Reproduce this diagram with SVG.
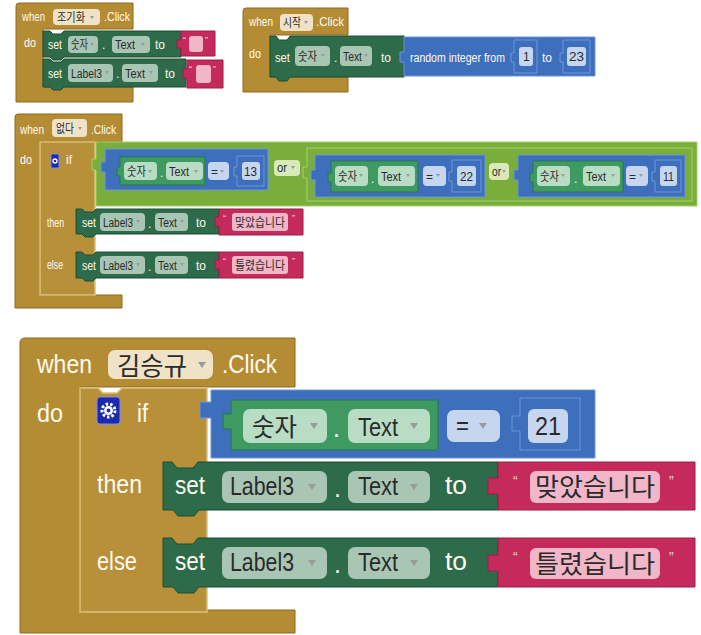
<svg xmlns="http://www.w3.org/2000/svg" width="701" height="635" viewBox="0 0 701 635">
<style>
text{font-family:"Liberation Sans","Noto Sans CJK KR",sans-serif}
.w{fill:#fffaf0}
.k{fill:#2a2a2a}
.q{fill:#f7d3df}
.s{font-size:12px}
.b{font-size:25px}
.gold{fill:#b48c34;stroke:#8e6b22;stroke-width:1}
.goldi{fill:#b8903a;stroke:#dcc07c;stroke-width:1.5}
.set{fill:#2e6b4a;stroke:#1e4f33;stroke-width:1}
.str{fill:#c42a5c;stroke:#9a1e46;stroke-width:1}
.math{fill:#3d6fbd;stroke:#6f97d8;stroke-width:1}
.get{fill:#3f9a62;stroke:#2a774a;stroke-width:1}
.logic{fill:#79ae3d;stroke:#a4d26a;stroke-width:1}
.pg{fill:#efe2c6}
.ps{fill:#a9c6b4}
.pt{fill:#f2b6c9}
.pm{fill:#c7d6ef}
.pe{fill:#b9dcc5}
.pl{fill:#d8eab9}
.ar{fill:#9a9a9a}
.gear{fill:#1b28b0;stroke:#7f8fe0;stroke-width:1}
.cog{fill:none;stroke:#ffffff}
</style>

<g id="connectors"></g>

<!-- Block 1: when 조기화.Click -->
<g id="block-jogiwha">
  <path class="gold" d="M19,3 H133 V29 H43 V87 H133 V102 H16 V6 Q16,3 19,3 Z"/>
  <text class="w s" x="22" y="21" textLength="23" lengthAdjust="spacingAndGlyphs">when</text>
  <rect class="pg" x="53" y="9" width="47" height="16" rx="4"/>
  <text class="k s" x="57" y="22" textLength="28" lengthAdjust="spacingAndGlyphs">조기화</text>
  <polygon class="ar" points="90,16 94,16 92,19"/>
  <text class="w s" x="104" y="21" textLength="26" lengthAdjust="spacingAndGlyphs">.Click</text>
  <text class="w s" x="24" y="47" textLength="12" lengthAdjust="spacingAndGlyphs">do</text>

  <path class="set" d="M43,31 H50 l3,3 h8 l3,-3 H181 V57 H64 l-3,3 h-8 l-3,-3 H43 Z"/>
  <text class="w s" x="48" y="49" textLength="14" lengthAdjust="spacingAndGlyphs">set</text>
  <rect class="ps" x="68" y="36" width="30" height="17" rx="4"/>
  <text class="k s" x="71" y="49" textLength="17" lengthAdjust="spacingAndGlyphs">숫자</text>
  <polygon class="ar" points="90,43 94,43 92,46"/>
  <text class="w s" x="102" y="49">.</text>
  <rect class="ps" x="112" y="36" width="38" height="17" rx="4"/>
  <text class="k s" x="115" y="49" textLength="20" lengthAdjust="spacingAndGlyphs">Text</text>
  <polygon class="ar" points="141,43 145,43 143,46"/>
  <text class="w s" x="155" y="49" textLength="10" lengthAdjust="spacingAndGlyphs">to</text>
  <path class="str" d="M181,31 H215 V56 H181 V48 h-4 v-8 h4 Z"/>
  <text class="q" x="183" y="43" font-size="9">“</text>
  <rect class="pt" x="189" y="36" width="14" height="16" rx="3"/>
  <text class="q" x="205" y="43" font-size="9">”</text>

  <path class="set" d="M43,59 H50 l3,3 h8 l3,-3 H186 V87 H64 l-3,3 h-8 l-3,-3 H43 Z"/>
  <text class="w s" x="48" y="78" textLength="14" lengthAdjust="spacingAndGlyphs">set</text>
  <rect class="ps" x="68" y="64" width="45" height="18" rx="4"/>
  <text class="k s" x="71" y="78" textLength="31" lengthAdjust="spacingAndGlyphs">Label3</text>
  <polygon class="ar" points="105,71 109,71 107,74"/>
  <text class="w s" x="116" y="78">.</text>
  <rect class="ps" x="122" y="64" width="36" height="18" rx="4"/>
  <text class="k s" x="125" y="78" textLength="20" lengthAdjust="spacingAndGlyphs">Text</text>
  <polygon class="ar" points="149,71 153,71 151,74"/>
  <text class="w s" x="165" y="78" textLength="10" lengthAdjust="spacingAndGlyphs">to</text>
  <path class="str" d="M187,60 H223 V88 H187 V78 h-4 v-9 h4 Z"/>
  <text class="q" x="189" y="72" font-size="9">“</text>
  <rect class="pt" x="196" y="65" width="15" height="18" rx="3"/>
  <text class="q" x="213" y="72" font-size="9">”</text>
</g>

<!-- Block 2: when 시작.Click -->
<g id="block-sijak">
  <path class="gold" d="M246,8 H348 V35 H270 V77 H348 V92 H243 V11 Q243,8 246,8 Z"/>
  <text class="w s" x="249" y="26" textLength="24" lengthAdjust="spacingAndGlyphs">when</text>
  <rect class="pg" x="280" y="14" width="33" height="17" rx="4"/>
  <text class="k s" x="283" y="27" textLength="18" lengthAdjust="spacingAndGlyphs">시작</text>
  <polygon class="ar" points="304,21 308,21 306,24"/>
  <text class="w s" x="316" y="26" textLength="28" lengthAdjust="spacingAndGlyphs">.Click</text>
  <text class="w s" x="249" y="58" textLength="12" lengthAdjust="spacingAndGlyphs">do</text>

  <path class="set" d="M270,36 H276 l3,4 h8 l3,-4 H404 V77 H290 l-3,4 h-8 l-3,-4 H270 Z"/>
  <text class="w s" x="275" y="62" textLength="15" lengthAdjust="spacingAndGlyphs">set</text>
  <rect class="ps" x="295" y="46" width="35" height="20" rx="4"/>
  <text class="k s" x="298" y="61" textLength="19" lengthAdjust="spacingAndGlyphs">숫자</text>
  <polygon class="ar" points="321,54 325,54 323,57"/>
  <text class="w s" x="334" y="62">.</text>
  <rect class="ps" x="340" y="46" width="32" height="20" rx="4"/>
  <text class="k s" x="343" y="61" textLength="19" lengthAdjust="spacingAndGlyphs">Text</text>
  <polygon class="ar" points="364,54 368,54 366,57"/>
  <text class="w s" x="381" y="62" textLength="10" lengthAdjust="spacingAndGlyphs">to</text>

  <path class="math" d="M404,37 H595 V76 H404 V62 h-4 v-10 h4 Z"/>
  <text class="w s" x="410" y="62" textLength="95" lengthAdjust="spacingAndGlyphs">random integer from</text>
  <path class="math" d="M514,40 H537 V73 H514 V62 h-3 v-9 h3 Z"/>
  <rect class="pm" x="519" y="47" width="14" height="19" rx="3"/>
  <text class="k s" x="523" y="61">1</text>
  <text class="w s" x="542" y="62" textLength="10" lengthAdjust="spacingAndGlyphs">to</text>
  <path class="math" d="M563,40 H590 V73 H563 V62 h-3 v-9 h3 Z"/>
  <rect class="pm" x="567" y="47" width="19" height="19" rx="3"/>
  <text class="k s" x="569" y="61" textLength="15" lengthAdjust="spacingAndGlyphs">23</text>
</g>

<!-- Block 3: when 없다.Click -->
<g id="block-eopda">
  <path class="gold" d="M18,114 H122 V142 H40 V295 H122 V308 H15 V117 Q15,114 18,114 Z"/>
  <text class="w s" x="20" y="134" textLength="24" lengthAdjust="spacingAndGlyphs">when</text>
  <rect class="pg" x="52" y="119" width="35" height="18" rx="4"/>
  <text class="k s" x="56" y="133" textLength="18" lengthAdjust="spacingAndGlyphs">없다</text>
  <polygon class="ar" points="78,127 82,127 80,130"/>
  <text class="w s" x="91" y="134" textLength="25" lengthAdjust="spacingAndGlyphs">.Click</text>
  <text class="w s" x="20" y="164" textLength="12" lengthAdjust="spacingAndGlyphs">do</text>

  <path class="goldi" d="M40,142 H95 V295 H40 Z"/>
  <rect class="gear" x="51" y="154" width="8" height="14" rx="1.5"/>
  <circle class="cog" cx="55" cy="161" r="2" stroke-width="1.3"/>
  <text class="w s" x="66" y="164" textLength="6" lengthAdjust="spacingAndGlyphs">if</text>

  <path class="logic" d="M96,142 H697 V206 H96 V170 h-4 v-11 h4 Z"/>
  <path class="math" d="M105,149 H268 V190 H105 V172 h-4 v-10 h4 Z"/>
  <path class="get" d="M120,157 H205 V185 H120 V176 h-3 v-9 h3 Z"/>
  <rect class="pe" x="124" y="162" width="33" height="18" rx="4"/>
  <text class="k s" x="127" y="176" textLength="19" lengthAdjust="spacingAndGlyphs">숫자</text>
  <polygon class="ar" points="148,170 152,170 150,173"/>
  <text class="w s" x="160" y="177">.</text>
  <rect class="pe" x="166" y="162" width="37" height="18" rx="4"/>
  <text class="k s" x="169" y="176" textLength="20" lengthAdjust="spacingAndGlyphs">Text</text>
  <polygon class="ar" points="194,170 198,170 196,173"/>
  <rect class="pm" x="208" y="162" width="21" height="18" rx="4"/>
  <text class="k s" x="211" y="176">=</text>
  <polygon class="ar" points="220,170 224,170 222,173"/>
  <path class="math" d="M237,156 H264 V186 H237 V176 h-3 v-9 h3 Z"/>
  <rect class="pm" x="242" y="162" width="18" height="18" rx="3"/>
  <text class="k s" x="244" y="176" textLength="13" lengthAdjust="spacingAndGlyphs">13</text>

  <rect class="pl" x="274" y="160" width="26" height="16" rx="4"/>
  <text class="k s" x="277" y="172" textLength="10" lengthAdjust="spacingAndGlyphs">or</text>
  <polygon class="ar" points="291,166 295,166 293,169"/>

  <path class="logic" d="M307,148 H692 V201 H307 V178 h-4 v-11 h4 Z"/>
  <path class="math" d="M315,155 H485 V197 H315 V180 h-4 v-10 h4 Z"/>
  <path class="get" d="M331,161 H418 V192 H331 V182 h-3 v-9 h3 Z"/>
  <rect class="pe" x="335" y="166" width="33" height="20" rx="4"/>
  <text class="k s" x="338" y="181" textLength="19" lengthAdjust="spacingAndGlyphs">숫자</text>
  <polygon class="ar" points="359,174 363,174 361,177"/>
  <text class="w s" x="371" y="183">.</text>
  <rect class="pe" x="378" y="166" width="37" height="20" rx="4"/>
  <text class="k s" x="381" y="181" textLength="20" lengthAdjust="spacingAndGlyphs">Text</text>
  <polygon class="ar" points="406,174 410,174 408,177"/>
  <rect class="pm" x="423" y="166" width="23" height="20" rx="4"/>
  <text class="k s" x="426" y="181">=</text>
  <polygon class="ar" points="436,174 440,174 438,177"/>
  <path class="math" d="M452,160 H481 V192 H452 V181 h-3 v-9 h3 Z"/>
  <rect class="pm" x="457" y="166" width="19" height="20" rx="3"/>
  <text class="k s" x="460" y="181" textLength="13" lengthAdjust="spacingAndGlyphs">22</text>

  <rect class="pl" x="489" y="163" width="20" height="17" rx="4"/>
  <text class="k s" x="492" y="176" textLength="9" lengthAdjust="spacingAndGlyphs">or</text>
  <polygon class="ar" points="502,170 506,170 504,173"/>

  <path class="math" d="M518,155 H685 V197 H518 V180 h-4 v-10 h4 Z"/>
  <path class="get" d="M533,161 H623 V192 H533 V182 h-3 v-9 h3 Z"/>
  <rect class="pe" x="537" y="166" width="33" height="20" rx="4"/>
  <text class="k s" x="540" y="181" textLength="19" lengthAdjust="spacingAndGlyphs">숫자</text>
  <polygon class="ar" points="561,174 565,174 563,177"/>
  <text class="w s" x="574" y="183">.</text>
  <rect class="pe" x="583" y="166" width="37" height="20" rx="4"/>
  <text class="k s" x="586" y="181" textLength="20" lengthAdjust="spacingAndGlyphs">Text</text>
  <polygon class="ar" points="611,174 615,174 613,177"/>
  <rect class="pm" x="626" y="166" width="22" height="20" rx="4"/>
  <text class="k s" x="629" y="181">=</text>
  <polygon class="ar" points="639,174 643,174 641,177"/>
  <path class="math" d="M655,160 H681 V192 H655 V181 h-3 v-9 h3 Z"/>
  <rect class="pm" x="660" y="166" width="17" height="20" rx="3"/>
  <text class="k s" x="663" y="181" textLength="11" lengthAdjust="spacingAndGlyphs">11</text>

  <text class="w s" x="47" y="227" textLength="17" lengthAdjust="spacingAndGlyphs">then</text>
  <path class="set" d="M76,209 H82 l3,3 h8 l3,-3 H219 V234 H96 l-3,3 h-8 l-3,-3 H76 Z"/>
  <text class="w s" x="82" y="227" textLength="14" lengthAdjust="spacingAndGlyphs">set</text>
  <rect class="ps" x="100" y="213" width="45" height="18" rx="4"/>
  <text class="k s" x="103" y="227" textLength="30" lengthAdjust="spacingAndGlyphs">Label3</text>
  <polygon class="ar" points="136,220 140,220 138,223"/>
  <text class="w s" x="148" y="228">.</text>
  <rect class="ps" x="155" y="213" width="33" height="18" rx="4"/>
  <text class="k s" x="158" y="227" textLength="19" lengthAdjust="spacingAndGlyphs">Text</text>
  <polygon class="ar" points="180,220 184,220 182,223"/>
  <text class="w s" x="196" y="227" textLength="10" lengthAdjust="spacingAndGlyphs">to</text>
  <path class="str" d="M219,209 H303 V235 H219 V226 h-4 v-9 h4 Z"/>
  <text class="q" x="223" y="221" font-size="9">“</text>
  <rect class="pt" x="232" y="213" width="56" height="18" rx="3"/>
  <text class="k s" x="235" y="227" textLength="50" lengthAdjust="spacingAndGlyphs">맞았습니다</text>
  <text class="q" x="292" y="221" font-size="9">”</text>

  <text class="w s" x="47" y="269" textLength="16" lengthAdjust="spacingAndGlyphs">else</text>
  <path class="set" d="M76,252 H82 l3,3 h8 l3,-3 H219 V278 H96 l-3,3 h-8 l-3,-3 H76 Z"/>
  <text class="w s" x="82" y="270" textLength="14" lengthAdjust="spacingAndGlyphs">set</text>
  <rect class="ps" x="100" y="256" width="45" height="18" rx="4"/>
  <text class="k s" x="103" y="270" textLength="30" lengthAdjust="spacingAndGlyphs">Label3</text>
  <polygon class="ar" points="136,263 140,263 138,266"/>
  <text class="w s" x="148" y="271">.</text>
  <rect class="ps" x="155" y="256" width="33" height="18" rx="4"/>
  <text class="k s" x="158" y="270" textLength="19" lengthAdjust="spacingAndGlyphs">Text</text>
  <polygon class="ar" points="180,263 184,263 182,266"/>
  <text class="w s" x="196" y="270" textLength="10" lengthAdjust="spacingAndGlyphs">to</text>
  <path class="str" d="M219,252 H303 V278 H219 V269 h-4 v-9 h4 Z"/>
  <text class="q" x="223" y="264" font-size="9">“</text>
  <rect class="pt" x="232" y="256" width="56" height="18" rx="3"/>
  <text class="k s" x="235" y="270" textLength="50" lengthAdjust="spacingAndGlyphs">틀렸습니다</text>
  <text class="q" x="292" y="264" font-size="9">”</text>
</g>

<!-- Block 4: when 김승규.Click -->
<g id="block-kimseunggyu">
  <path class="gold" d="M25,338 H295 V387 H80 V610 H295 V633 H20 V343 Q20,338 25,338 Z"/>
  <text class="w b" x="37" y="373" textLength="55" lengthAdjust="spacingAndGlyphs">when</text>
  <rect class="pg" x="108" y="350" width="105" height="29" rx="7"/>
  <text class="k b" x="117" y="375" textLength="70" lengthAdjust="spacingAndGlyphs">김승규</text>
  <polygon class="ar" points="198,362 206,362 202,368"/>
  <text class="w b" x="222" y="373" textLength="55" lengthAdjust="spacingAndGlyphs">.Click</text>
  <text class="w b" x="37" y="422" textLength="26" lengthAdjust="spacingAndGlyphs">do</text>

  <path class="goldi" d="M80,388 H98 l5,5 h14 l5,-5 H207 V612 H80 Z"/>
  <rect class="gear" x="97" y="397" width="23" height="27" rx="3"/>
  <circle class="cog" cx="108.5" cy="410.5" r="6.5" stroke-width="3" stroke-dasharray="2.5 2"/>
  <circle class="cog" cx="108.5" cy="410.5" r="3.2" stroke-width="2.5"/>
  <text class="w b" x="137" y="422" textLength="11" lengthAdjust="spacingAndGlyphs">if</text>

  <path class="math" d="M211,390 H595 V458 H211 V418 h-11 v-16 h11 Z"/>
  <path class="get" d="M231,400 H438 V450 H231 V429 h-8 v-15 h8 Z"/>
  <rect class="pe" x="243" y="409" width="84" height="34" rx="7"/>
  <text class="k b" x="252" y="436" textLength="45" lengthAdjust="spacingAndGlyphs">숫자</text>
  <polygon class="ar" points="310,423 318,423 314,429"/>
  <text class="w b" x="333" y="437">.</text>
  <rect class="pe" x="348" y="409" width="82" height="34" rx="7"/>
  <text class="k b" x="358" y="436" textLength="40" lengthAdjust="spacingAndGlyphs">Text</text>
  <polygon class="ar" points="410,423 418,423 414,429"/>
  <rect class="pm" x="447" y="410" width="53" height="32" rx="7"/>
  <text class="k b" x="456" y="434" textLength="13" lengthAdjust="spacingAndGlyphs">=</text>
  <polygon class="ar" points="479,423 487,423 483,429"/>
  <path class="math" d="M520,398 H580 V450 H520 V431 h-8 v-15 h8 Z"/>
  <rect class="pm" x="528" y="409" width="40" height="34" rx="6"/>
  <text class="k b" x="535" y="435" textLength="26" lengthAdjust="spacingAndGlyphs">21</text>

  <text class="w b" x="97" y="493" textLength="45" lengthAdjust="spacingAndGlyphs">then</text>
  <path class="set" d="M163,462 H172 l5,6 h16 l5,-6 H498 V510 H199 l-5,6 h-16 l-5,-6 H163 Z"/>
  <text class="w b" x="175" y="494" textLength="30" lengthAdjust="spacingAndGlyphs">set</text>
  <rect class="ps" x="222" y="471" width="105" height="32" rx="7"/>
  <text class="k b" x="230" y="495" textLength="64" lengthAdjust="spacingAndGlyphs">Label3</text>
  <polygon class="ar" points="308,484 316,484 312,490"/>
  <text class="w b" x="334" y="497">.</text>
  <rect class="ps" x="348" y="471" width="82" height="32" rx="7"/>
  <text class="k b" x="358" y="495" textLength="40" lengthAdjust="spacingAndGlyphs">Text</text>
  <polygon class="ar" points="410,484 418,484 414,490"/>
  <text class="w b" x="445" y="494" textLength="22" lengthAdjust="spacingAndGlyphs">to</text>
  <path class="str" d="M498,462 H695 V510 H498 V494 h-10 v-16 h10 Z"/>
  <text class="q" x="513" y="486" font-size="14">“</text>
  <rect class="pt" x="530" y="471" width="130" height="32" rx="6"/>
  <text class="k b" x="535" y="496" textLength="120" lengthAdjust="spacingAndGlyphs">맞았습니다</text>
  <text class="q" x="669" y="486" font-size="14">”</text>

  <text class="w b" x="97" y="570" textLength="40" lengthAdjust="spacingAndGlyphs">else</text>
  <path class="set" d="M163,538 H172 l5,6 h16 l5,-6 H498 V587 H199 l-5,6 h-16 l-5,-6 H163 Z"/>
  <text class="w b" x="175" y="570" textLength="30" lengthAdjust="spacingAndGlyphs">set</text>
  <rect class="ps" x="222" y="547" width="105" height="32" rx="7"/>
  <text class="k b" x="230" y="571" textLength="64" lengthAdjust="spacingAndGlyphs">Label3</text>
  <polygon class="ar" points="308,560 316,560 312,566"/>
  <text class="w b" x="334" y="573">.</text>
  <rect class="ps" x="348" y="547" width="82" height="32" rx="7"/>
  <text class="k b" x="358" y="571" textLength="40" lengthAdjust="spacingAndGlyphs">Text</text>
  <polygon class="ar" points="410,560 418,560 414,566"/>
  <text class="w b" x="445" y="570" textLength="22" lengthAdjust="spacingAndGlyphs">to</text>
  <path class="str" d="M498,538 H695 V587 H498 V571 h-10 v-16 h10 Z"/>
  <text class="q" x="513" y="562" font-size="14">“</text>
  <rect class="pt" x="530" y="548" width="130" height="31" rx="6"/>
  <text class="k b" x="535" y="573" textLength="120" lengthAdjust="spacingAndGlyphs">틀렸습니다</text>
  <text class="q" x="669" y="562" font-size="14">”</text>
</g>
</svg>
